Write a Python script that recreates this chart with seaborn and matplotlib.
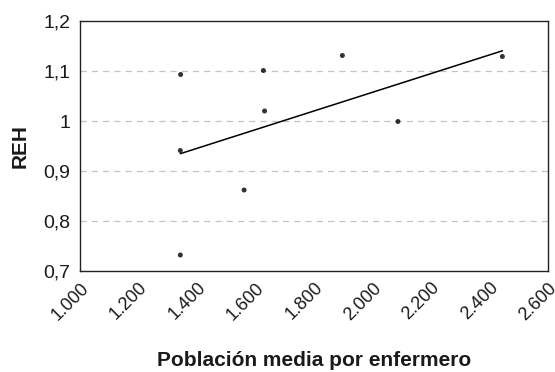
import matplotlib
matplotlib.use("Agg")
import matplotlib.pyplot as plt
import seaborn as sns
import numpy as np
import pandas as pd

# Data
poblacion = [1344, 1343, 1343, 1561, 1627, 1631, 1897, 2087, 2444]
reh = [1.093, 0.941, 0.732, 0.862, 1.101, 1.020, 1.131, 0.999, 1.129]
x_ticks = [1000, 1200, 1400, 1600, 1800, 2000, 2200, 2400, 2600]
x_tick_labels = ["1.000", "1.200", "1.400", "1.600", "1.800", "2.000", "2.200", "2.400", "2.600"]
y_ticks = [0.7, 0.8, 0.9, 1.0, 1.1, 1.2]
y_tick_labels = ["0,7", "0,8", "0,9", "1", "1,1", "1,2"]

df = pd.DataFrame({"Población media por enfermero": poblacion, "REH": reh})

sns.set_theme(style="white")
plt.rcParams["font.family"] = ["Liberation Sans", "DejaVu Sans"]

fig = plt.figure(figsize=(5.55, 3.72), dpi=100)
ax = fig.add_axes([80/555, 1 - 271/372, (548-80)/555, (271-21)/372])

sns.regplot(data=df, x="Población media por enfermero", y="REH", ci=None, ax=ax,
            scatter_kws=dict(s=13, color="black", edgecolor="none", zorder=3),
            line_kws=dict(color="black", linewidth=1.1))

ax.set_xlim(1000, 2600)
ax.set_ylim(0.7, 1.2)
ax.set_xticks(x_ticks)
ax.set_xticklabels(x_tick_labels, rotation=45, ha="right", va="top",
                   rotation_mode="anchor", fontsize=13)
ax.set_yticks(y_ticks)
ax.set_yticklabels(y_tick_labels, fontsize=14)

for yv in y_ticks[1:-1]:
    ax.axhline(yv, color="#c4c4c4", linestyle=(0, (5, 4)), linewidth=0.9, zorder=1)

for s in ax.spines.values():
    s.set_color("#222222")
    s.set_linewidth(1.0)
    s.set_visible(True)

ax.tick_params(axis="both", direction="out", length=4, width=1.0, color="#222222",
               pad=3, labelcolor="#1a1a1a")
ax.tick_params(axis="x", pad=2)

ax.set_xlabel("Población media por enfermero", fontsize=15, fontweight="bold",
              labelpad=20, color="#1a1a1a")
ax.set_ylabel("REH", fontsize=15, fontweight="bold", labelpad=10, color="#1a1a1a")

fig.savefig("out.png", dpi=100)
